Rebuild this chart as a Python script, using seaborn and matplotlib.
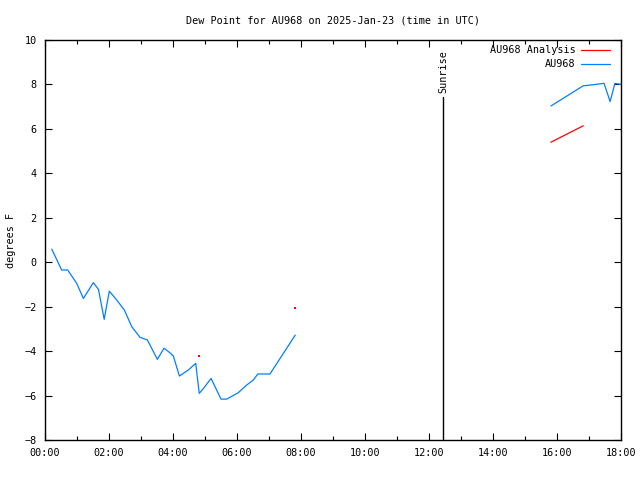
import pandas as pd
import numpy as np
import seaborn as sns
import matplotlib.pyplot as plt

# Observed dew point (hours UTC, degrees F), two segments with a gap between them
obs_hours_1 = [0.21, 0.52, 0.71, 0.99, 1.20, 1.51, 1.67, 1.85, 2.01, 2.24, 2.48, 2.71,
               2.97, 3.20, 3.51, 3.72, 3.90, 4.01, 4.20, 4.48, 4.71, 4.82, 4.93, 5.19,
               5.50, 5.68, 6.04, 6.30, 6.51, 6.65, 7.03, 7.82]
obs_dewpt_1 = [0.59, -0.35, -0.35, -0.95, -1.63, -0.92, -1.22, -2.57, -1.30, -1.70, -2.15, -2.90,
               -3.38, -3.50, -4.37, -3.87, -4.07, -4.22, -5.12, -4.85, -4.55, -5.90, -5.72, -5.23,
               -6.16, -6.16, -5.87, -5.53, -5.30, -5.03, -5.03, -3.28]
obs_hours_2 = [15.81, 16.82, 17.03, 17.47, 17.66, 17.81, 18.00]
obs_dewpt_2 = [7.03, 7.94, 7.97, 8.05, 7.23, 8.05, 8.00]

# Analysis values
ana_dot_hours = [4.82, 7.82]
ana_dot_dewpt = [-4.24, -2.08]
ana_line_hours = [15.81, 16.82]
ana_line_dewpt = [5.40, 6.14]

sunrise_hour = 12.44
xtick_labels = ['00:00', '02:00', '04:00', '06:00', '08:00', '10:00', '12:00', '14:00', '16:00', '18:00']

obs = pd.DataFrame({
    'hour': obs_hours_1 + obs_hours_2,
    'dewpt': obs_dewpt_1 + obs_dewpt_2,
    'segment': [1] * len(obs_hours_1) + [2] * len(obs_hours_2),
})
ana_line = pd.DataFrame({'hour': ana_line_hours, 'dewpt': ana_line_dewpt})
ana_dots = pd.DataFrame({'hour': ana_dot_hours, 'dewpt': ana_dot_dewpt})

sns.set_style('white')
plt.rcParams['font.family'] = ['DejaVu Sans Mono']
plt.rcParams['font.size'] = 7.3
plt.rcParams['text.color'] = 'black'
plt.rcParams['axes.labelcolor'] = 'black'
plt.rcParams['xtick.color'] = 'black'
plt.rcParams['ytick.color'] = 'black'

blue = '#0080ff'
red = '#ff0000'

fig = plt.figure(figsize=(6.4, 4.8), dpi=100)
ax = fig.add_axes([45 / 640, 1 - 440 / 480, 576 / 640, 400 / 480])

sns.lineplot(data=obs, x='hour', y='dewpt', units='segment', estimator=None,
             color=blue, linewidth=0.9, ax=ax)
sns.lineplot(data=ana_line, x='hour', y='dewpt', color=red, linewidth=0.9, ax=ax)
sns.scatterplot(data=ana_dots, x='hour', y='dewpt', color=red, s=2, marker='s',
                linewidth=0, ax=ax)

# Sunrise marker
ax.plot([sunrise_hour, sunrise_hour], [-8, 7.45], color='black', linewidth=1)
ax.text(sunrise_hour, 7.6, 'Sunrise', rotation=90, ha='center', va='bottom')

ax.set_xlim(0, 18)
ax.set_ylim(-8, 10)
ax.set_xticks(np.arange(0, 19, 2))
ax.set_xticklabels(xtick_labels)
ax.set_xticks(np.arange(1, 18, 2), minor=True)
ax.set_yticks(np.arange(-8, 11, 2))
ax.tick_params(which='major', direction='in', length=5, width=0.8, top=True, right=True,
               bottom=True, left=True, pad=6)
ax.tick_params(which='minor', direction='in', length=3, width=0.8, top=True, bottom=True)
for s in ax.spines.values():
    s.set_color('black')
    s.set_linewidth(1)

ax.set_xlabel('')
ax.set_ylabel('degrees F', labelpad=6)
ax.set_title('Dew Point for AU968 on 2025-Jan-23 (time in UTC)', pad=12, fontsize=7.3)

# gnuplot-style legend: text right-aligned, line sample to the right
lx0, lx1 = 0.931, 0.981
for i, (label, col) in enumerate([('AU968 Analysis', red), ('AU968', blue)]):
    yy = 0.975 - i * 0.035
    ax.text(0.921, yy, label, transform=ax.transAxes, ha='right', va='center')
    ax.plot([lx0, lx1], [yy, yy], transform=ax.transAxes, color=col, linewidth=0.9)

plt.savefig('out.png', dpi=100)
